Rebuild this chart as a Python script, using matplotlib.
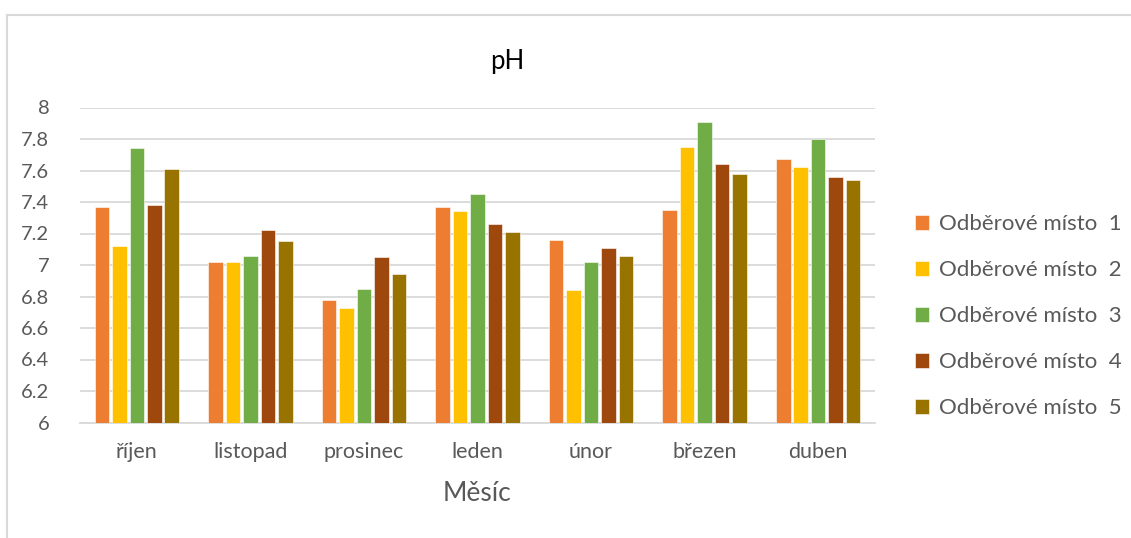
import matplotlib
matplotlib.use("Agg")
import matplotlib.pyplot as plt
import numpy as np
from matplotlib.lines import Line2D

plt.rcParams['font.family'] = ['Lato', 'DejaVu Sans']

months = ["říjen", "listopad", "prosinec", "leden", "únor", "březen", "duben"]
series_names = ["Odběrové místo  1", "Odběrové místo  2", "Odběrové místo  3",
                "Odběrové místo  4", "Odběrové místo  5"]
site1 = [7.37, 7.02, 6.78, 7.37, 7.16, 7.35, 7.67]
site2 = [7.12, 7.02, 6.73, 7.34, 6.84, 7.75, 7.62]
site3 = [7.74, 7.06, 6.85, 7.45, 7.02, 7.91, 7.80]
site4 = [7.38, 7.22, 7.05, 7.26, 7.11, 7.64, 7.56]
site5 = [7.61, 7.15, 6.94, 7.21, 7.06, 7.58, 7.54]
yticks = [6, 6.2, 6.4, 6.6, 6.8, 7, 7.2, 7.4, 7.6, 7.8, 8]
ytick_labels = ["6", "6.2", "6.4", "6.6", "6.8", "7", "7.2", "7.4", "7.6", "7.8", "8"]

colors = ["#ED7D31", "#FFC000", "#70AD47", "#9E480E", "#997300"]
text_color = "#595959"

fig = plt.figure(figsize=(11.31, 5.38), dpi=100)
ax = fig.add_axes([80/1131, 1-422.5/538, (875-80)/1131, (422.5-107.5)/538])

x = np.arange(len(months))
data = [site1, site2, site3, site4, site5]
pitch = 0.154
width = 0.128
handles = []
for i, (vals, c, name) in enumerate(zip(data, colors, series_names)):
    offs = (i - 2) * pitch
    b = ax.bar(x + offs, np.array(vals) - 6, bottom=6, width=width, color=c,
               label=name, zorder=3, edgecolor='white', linewidth=0.4)
    handles.append(b)

ax.set_xlim(-0.5, len(months) - 0.5)
ax.set_ylim(6, 8)
ax.set_yticks(yticks)
ax.set_yticklabels(ytick_labels)
ax.set_xticks(x)
ax.set_xticklabels(months)
ax.yaxis.grid(True, color="#D9D9D9", linewidth=1.3, zorder=0)
ax.set_axisbelow(True)
for s in ["top", "right", "left"]:
    ax.spines[s].set_visible(False)
ax.spines["bottom"].set_color("#D9D9D9")
ax.spines["bottom"].set_linewidth(1.3)
ax.tick_params(axis='both', length=0, colors=text_color, labelsize=14.5)
ax.tick_params(axis='x', pad=14, labelsize=15.5)
ax.tick_params(axis='y', pad=22)

ax.set_xlabel("Měsíc", color=text_color, fontsize=19, labelpad=14)
fig.text(507/1131, 1-62/538, "pH", ha='center', va='center', fontsize=18.5, color='black')

leg = fig.legend(handles=handles, labels=series_names, loc='upper left',
                 bbox_to_anchor=(895/1131, 1-194/538), frameon=False,
                 fontsize=16, labelcolor=text_color, handlelength=0.65,
                 handleheight=0.65, handletextpad=0.45, labelspacing=1.17)

# chart border
fig.add_artist(Line2D([7/1131, 1], [1-15/538, 1-15/538], color="#D9D9D9", linewidth=1.5))
fig.add_artist(Line2D([7/1131, 7/1131], [0, 1-15/538], color="#D9D9D9", linewidth=1.5))

fig.savefig("out.png", dpi=100)
